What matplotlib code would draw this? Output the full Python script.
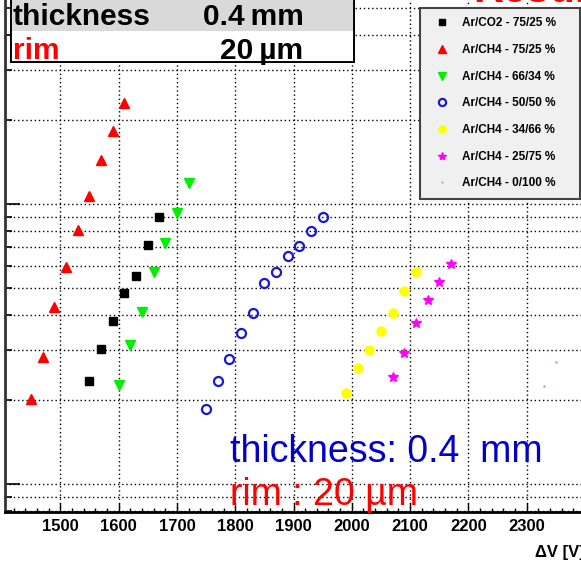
import numpy as np
import matplotlib
matplotlib.use('Agg')
import matplotlib.pyplot as plt
from matplotlib.ticker import MultipleLocator, LogLocator, NullFormatter
from matplotlib.patches import Rectangle

# gain vs voltage
v_co2_7525 = [1550, 1570, 1590, 1610, 1630, 1650, 1670]
g_co2_7525 = [2330, 3030, 3820, 4800, 5550, 7160, 9000]
v_ch4_7525 = [1450, 1470, 1490, 1510, 1530, 1550, 1570, 1590, 1610]
g_ch4_7525 = [2010, 2840, 4280, 5970, 8070, 10700, 14400, 18300, 23000]
v_ch4_6634 = [1600, 1620, 1640, 1660, 1680, 1700, 1720]
g_ch4_6634 = [2260, 3140, 4100, 5730, 7270, 9260, 11900]
v_ch4_5050 = [1750, 1770, 1790, 1810, 1830, 1850, 1870, 1890, 1910, 1930, 1950]
g_ch4_5050 = [1860, 2340, 2790, 3460, 4090, 5210, 5700, 6510, 7100, 8010, 9010]
v_ch4_3466 = [1990, 2010, 2030, 2050, 2070, 2090, 2110]
g_ch4_3466 = [2110, 2590, 3020, 3520, 4070, 4890, 5700]
v_ch4_2575 = [2070, 2090, 2110, 2130, 2150, 2170]
g_ch4_2575 = [2420, 2940, 3770, 4540, 5260, 6110]
v_ch4_0100 = [2330, 2350]
g_ch4_0100 = [2240, 2720]

labels = ['Ar/CO2 - 75/25 %', 'Ar/CH4 - 75/25 %', 'Ar/CH4 - 66/34 %', 'Ar/CH4 - 50/50 %',
          'Ar/CH4 - 34/66 %', 'Ar/CH4 - 25/75 %', 'Ar/CH4 - 0/100 %']

W, H = 581, 562
fig = plt.figure(figsize=(W / 100, H / 100), dpi=100)
fig.patch.set_facecolor('white')

# axes run past the top and right edge of the picture (cropped plot)
ax_left, ax_right, ax_top, ax_bot = 5, 583, -20, 512
ax = fig.add_axes([ax_left / W, 1 - ax_bot / H, (ax_right - ax_left) / W, (ax_bot - ax_top) / H])

px_per_v = 0.583
x0 = 1500 - (60.3 - ax_left) / px_per_v
x1 = 1500 + (ax_right - 60.3) / px_per_v
ax.set_xlim(x0, x1)
ax.set_yscale('log')
dec = 280.0
ax.set_ylim(10 ** (3 - (ax_bot - 484) / dec), 10 ** (3 + (484 - ax_top) / dec))

ms = 6
ax.plot(v_co2_7525, g_co2_7525, ls='none', marker='s', ms=ms, color='black', label=labels[0])
ax.plot(v_ch4_7525, g_ch4_7525, ls='none', marker='^', ms=ms + 0.5, color='red', mec='red', label=labels[1])
ax.plot(v_ch4_6634, g_ch4_6634, ls='none', marker='v', ms=ms + 0.5, color='#00ee00', label=labels[2])
ax.plot(v_ch4_5050, g_ch4_5050, ls='none', marker='o', ms=ms + 0.5, mfc='none', mec='#1a1acc', mew=1.6, label=labels[3])
ax.plot(v_ch4_3466, g_ch4_3466, ls='none', marker='o', ms=ms + 0.5, color='#ffff00', label=labels[4])
ax.plot(v_ch4_2575, g_ch4_2575, ls='none', marker='*', ms=ms + 1.5, color='#ff00ff', label=labels[5])
ax.plot(v_ch4_0100, g_ch4_0100, ls='none', marker='.', ms=2, color='#99cc99', label=labels[6])

# ROOT-like axes
ax.xaxis.set_major_locator(MultipleLocator(100))
ax.xaxis.set_minor_locator(MultipleLocator(20))
ax.yaxis.set_major_locator(LogLocator(base=10))
ax.yaxis.set_minor_locator(LogLocator(base=10, subs=np.arange(2, 10)))
ax.yaxis.set_major_formatter(NullFormatter())
ax.yaxis.set_minor_formatter(NullFormatter())
ax.tick_params(axis='x', which='both', direction='in', top=False)
ax.tick_params(axis='x', which='major', length=6.5, width=1, pad=5, labelsize=12)
ax.tick_params(axis='x', which='minor', length=3.2, width=1)
ax.tick_params(axis='y', which='major', direction='in', length=11, width=1.2)
ax.tick_params(axis='y', which='minor', direction='in', length=5, width=1.2)
for lab in ax.get_xticklabels():
    lab.set_fontweight('bold')
    lab.set_family('Liberation Sans')
ax.grid(True, which='major', axis='x', color='black', ls=(0, (1, 2)), lw=1)
ax.grid(True, which='both', axis='y', color='black', ls=(0, (1, 2)), lw=1)
ax.spines['top'].set_visible(False)
ax.spines['right'].set_visible(False)
ax.spines['left'].set_linewidth(2)
ax.spines['left'].set_color('#333333')
ax.spines['bottom'].set_linewidth(2)

# legend
leg = ax.legend(loc='upper left', bbox_to_anchor=(420 / W, 1 - 193 / H, 160 / W, 185 / H),
                bbox_transform=fig.transFigure, mode='expand', borderaxespad=0,
                prop={'family': 'Liberation Sans', 'weight': 'bold', 'size': 8.5},
                frameon=True, fancybox=False, borderpad=0.8, labelspacing=1.24,
                handlelength=2.1, handletextpad=0.7, markerscale=0.8, numpoints=1)
leg.get_frame().set_facecolor('#f0f0f0')
leg.get_frame().set_edgecolor('#444444')
leg.get_frame().set_linewidth(1.5)
leg.get_frame().set_alpha(1)

# info box top-left
bx = fig.add_axes([10 / W, 1 - 63 / H, 345 / W, 73 / H])
bx.set_xlim(0, 345)
bx.set_ylim(63, -10)
bx.axis('off')
bx.add_patch(Rectangle((0, -10), 345, 41, facecolor='#d9d9d9', edgecolor='none'))
bx.add_patch(Rectangle((0, 31), 345, 32, facecolor='white', edgecolor='none'))
bx.plot([0, 0, 345, 345], [-10, 63, 63, -10], color='black', lw=2.8, solid_joinstyle='miter')
fs_box = 21.5
bx.text(3, 25, 'thickness', fontsize=fs_box, fontweight='bold', family='Liberation Sans', color='black', va='baseline')
bx.text(193, 25, '0.4\u2009mm', fontsize=fs_box, fontweight='bold', family='Liberation Sans', color='black', va='baseline')
bx.text(3, 59, 'rim', fontsize=fs_box, fontweight='bold', family='Liberation Sans', color='red', va='baseline')
bx.text(210, 59, '20\u2009\u00b5m', fontsize=fs_box, fontweight='bold', family='Liberation Sans', color='black', va='baseline')

# red title, mostly cut off at the top
fig.text(473 / W, 1 - 2 / H, 'Results', fontsize=30, fontweight='bold', color='red',
         family='Liberation Sans', va='baseline', ha='left')

# annotations inside the plot
fig.text(230 / W, 1 - 462 / H, 'thickness: 0.4  mm', fontsize=27, color='#0000cc',
         family='Liberation Sans', va='baseline', ha='left')
fig.text(230 / W, 1 - 505 / H, 'rim : 20 \u00b5m', fontsize=27, color='red',
         family='Liberation Sans', va='baseline', ha='left')

fig.text(535 / W, 1 - 552 / H, '\u0394V [V]', fontsize=12, fontweight='bold',
         family='Liberation Sans', va='center', ha='left')

fig.savefig('out.png', dpi=100)
